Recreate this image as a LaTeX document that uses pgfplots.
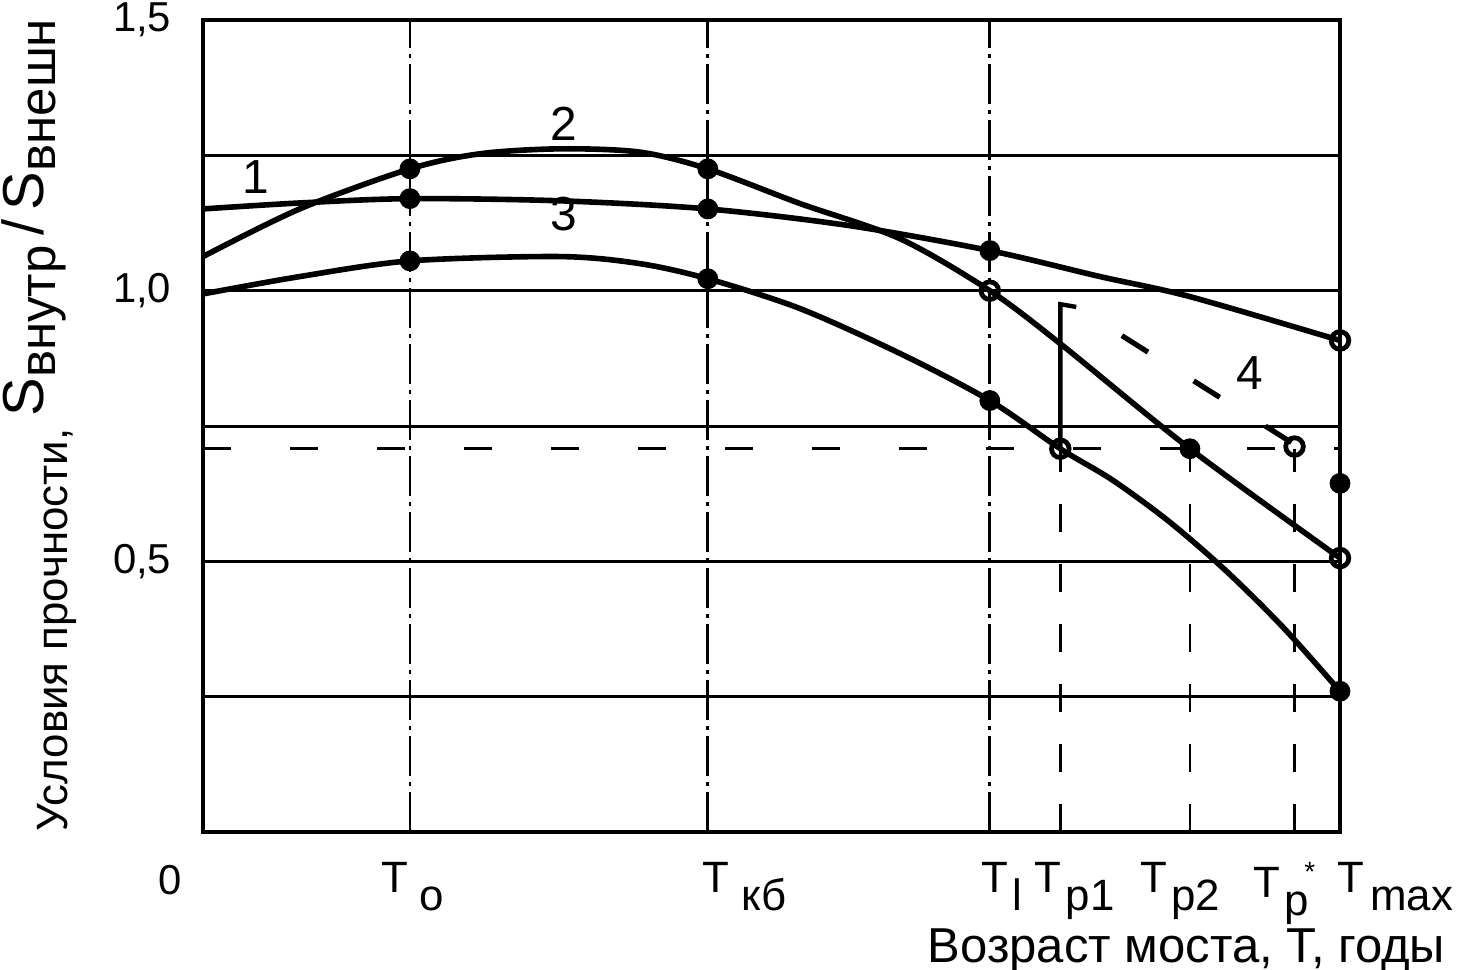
\documentclass[border=0pt]{standalone}
\usepackage{fontspec}
\setmainfont{Liberation Sans}
\usepackage{pgfplots}
\pgfplotsset{compat=1.18}
\newcommand{\sub}[1]{\raisebox{-4.5bp}{#1}}
\begin{document}
\begin{tikzpicture}
\begin{axis}[
 name=ax, at={(0,0)}, anchor=south west,
 scale only axis, width=284.25bp, height=203bp,
 xmin=0, xmax=100, ymin=0, ymax=1.5,
 axis line style={line width=1bp},
 xtick=\empty,
 ytick={0.25,0.5,0.75,1,1.25,1.5},
 yticklabels={,{0,5},,{1,0},,{1,5}},
 major tick length=0pt,
 ymajorgrids, grid style={line width=0.75bp, black},
 yticklabel style={font=\fontsize{10.5}{12}\selectfont, inner sep=0pt, xshift=-7.75bp},
 clip=false,
]
% vertical dash-dot grid lines
\draw[line width=0.7bp, dash pattern=on 10bp off 1.5bp on 1bp off 1.5bp] (axis cs:18.2,0) -- (axis cs:18.2,1.5);
\draw[line width=0.7bp, dash pattern=on 10bp off 1.5bp on 1bp off 1.5bp] (axis cs:44.4,0) -- (axis cs:44.4,1.5);
\draw[line width=0.7bp, dash pattern=on 10bp off 1.5bp on 1bp off 1.5bp] (axis cs:69.2,0) -- (axis cs:69.2,1.5);
% partial dashed verticals
\draw[line width=0.7bp, dash pattern=on 7bp off 8bp] (axis cs:75.4,0) -- (axis cs:75.4,0.708);
\draw[line width=0.7bp, dash pattern=on 7bp off 8bp] (axis cs:86.8,0) -- (axis cs:86.8,0.708);
\draw[line width=0.7bp, dash pattern=on 7bp off 8bp] (axis cs:96.0,0) -- (axis cs:96.0,0.708);
% horizontal dashed level
\draw[line width=0.75bp, dash pattern=on 7bp off 14.75bp] (axis cs:0,0.708) -- (axis cs:100,0.708);

% curve 1
\addplot[black, line width=1.4bp, smooth, tension=0.5] coordinates {
 (0,1.151) (8.5,1.162) (18.2,1.170) (31.4,1.166) (44.4,1.151) (56.9,1.120) (69.2,1.074) (78.9,1.026) (86.8,0.989) (100,0.908)};
% curve 2
\addplot[black, line width=1.4bp, smooth, tension=0.5] coordinates {
 (0,1.063) (8.5,1.151) (18.2,1.225) (24.4,1.253) (31.4,1.262) (38.4,1.256) (44.4,1.225) (52.5,1.161) (61.3,1.096) (69.2,1.0) (75.4,0.902) (86.8,0.708) (100,0.506)};
% curve 3
\addplot[black, line width=1.4bp, smooth, tension=0.5] coordinates {
 (0,0.994) (8.5,1.026) (18.2,1.055) (31.4,1.063) (38.4,1.050) (44.4,1.022) (52.5,0.967) (61.3,0.884) (69.2,0.797) (75.4,0.708) (80,0.650) (85,0.573) (90,0.482) (95,0.378) (100,0.260)};
% curve 4
\addplot[black, line width=1.1bp] coordinates {(75.4,0.708) (75.4,0.975) (76.8,0.970)};
\addplot[black, line width=1.3bp, dash pattern=on 7.7bp off 13.5bp, dash phase=7.7bp] coordinates {(76.8,0.970) (96.0,0.716)};

% filled markers
\addplot[only marks, mark=*, mark size=2.4bp, black] coordinates {
 (18.2,1.170) (44.4,1.151) (69.2,1.074)
 (18.2,1.225) (44.4,1.225) (86.8,0.708)
 (18.2,1.055) (44.4,1.022) (69.2,0.797) (100,0.260)
 (100,0.644)};
% open markers
\addplot[only marks, mark=o, mark size=2.2bp, line width=1.2bp, black, fill=white, mark options={fill=white}] coordinates {
 (100,0.908) (69.2,1.0) (100,0.506) (75.4,0.708) (96.0,0.712)};

% curve labels
\node[font=\fontsize{12}{14}\selectfont] at (axis cs:4.6,1.21) {1};
\node[font=\fontsize{12}{14}\selectfont] at (axis cs:31.7,1.308) {2};
\node[font=\fontsize{12}{14}\selectfont] at (axis cs:31.7,1.142) {3};
\node[font=\fontsize{12}{14}\selectfont] at (axis cs:92.1,0.847) {4};

% x tick labels
\begin{scope}[every node/.style={anchor=north west, inner sep=0pt, font=\fontsize{11}{12}\selectfont, yshift=-7.5bp}]
\node at (axis cs:15.6,0) {T\hspace{3bp}\sub{o}};
\node at (axis cs:43.9,0) {T\hspace{3bp}\sub{кб}};
\node at (axis cs:68.4,0) {T\hspace{1bp}\sub{l}};
\node at (axis cs:73.1,0) {T\hspace{1bp}\sub{p1}};
\node at (axis cs:82.4,0) {T\hspace{1bp}\sub{p2}};
\node at (axis cs:92.3,0) {T\hspace{1bp}\sub{p}\raisebox{4bp}{\kern-1bp\scriptsize *}};
\node at (axis cs:99.7,0) {T\hspace{1.5bp}\sub{max}};
\end{scope}
\node[font=\fontsize{10.5}{12}\selectfont] at ([xshift=-8.25bp, yshift=-12bp]axis cs:0,0) {0};
\end{axis}

% axis labels
\node[anchor=base east, inner sep=0pt, font=\fontsize{12.3}{14}\selectfont] at (310.75bp,-32.5bp) {Возраст моста, Т, годы};
\node[rotate=90, anchor=south west, inner sep=0pt, font=\fontsize{11}{13}\selectfont] at (-31.5bp,0bp)
 {Условия прочности, \raisebox{6bp}{\fontsize{14.5}{16}\selectfont S\raisebox{-3bp}{\fontsize{12.8}{14}\selectfont внутр}\,/\,S\raisebox{-3bp}{\fontsize{12.8}{14}\selectfont внешн}}};

\pgfresetboundingbox
\path (-50.75bp,-34.5bp) rectangle (313.75bp,208bp);
\end{tikzpicture}
\end{document}
